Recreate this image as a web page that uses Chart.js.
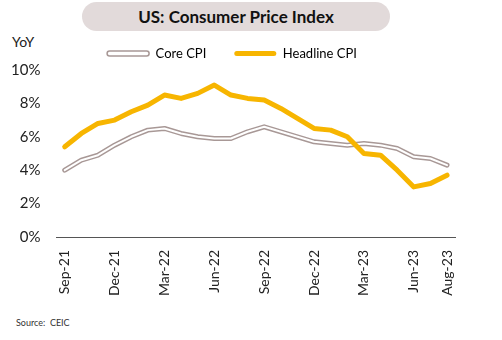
<!DOCTYPE html>
<html>
<head>
<meta charset="utf-8">
<script src="https://cdn.jsdelivr.net/npm/chart.js@4/dist/chart.umd.min.js"></script>
<style>
  body { margin: 0; background: #fff; font-family: Lato, "DejaVu Sans", sans-serif; }
  #wrap { position: relative; width: 502px; height: 340px; overflow: hidden; }
  #title {
    position: absolute; left: 82px; top: 2px; width: 308px; height: 29px;
    border-radius: 15px; background: #e2dada; color: #111;
    font-weight: bold; font-size: 17px; line-height: 29px; text-align: center;
  }
  #yoy { position: absolute; left: 12px; top: 33px; font-size: 14px; color: #222; }
  #source { position: absolute; left: 16px; top: 317px; font-size: 9px; color: #333; }
  #box { position: absolute; left: -5px; top: 19px; width: 482px; height: 290px; }
</style>
</head>
<body>
<div id="wrap">
  <div id="title">US: Consumer Price Index</div>
  <div id="yoy">YoY</div>
  <div id="box"><canvas id="cpiChart"></canvas></div>
  <div id="source">Source:&nbsp; CEIC</div>
</div>
<script>
const months = [
  "Sep-21", "Oct-21", "Nov-21", "Dec-21", "Jan-22", "Feb-22", "Mar-22", "Apr-22",
  "May-22", "Jun-22", "Jul-22", "Aug-22", "Sep-22", "Oct-22", "Nov-22", "Dec-22",
  "Jan-23", "Feb-23", "Mar-23", "Apr-23", "May-23", "Jun-23", "Jul-23", "Aug-23"
];
const coreCpi = [
  4.0, 4.6, 4.9, 5.5, 6.0, 6.4, 6.5, 6.2, 6.0, 5.9, 5.9, 6.3,
  6.6, 6.3, 6.0, 5.7, 5.6, 5.5, 5.6, 5.5, 5.3, 4.8, 4.7, 4.3
];
const headlineCpi = [
  5.4, 6.2, 6.8, 7.0, 7.5, 7.9, 8.5, 8.3, 8.6, 9.1, 8.5, 8.3,
  8.2, 7.7, 7.1, 6.5, 6.4, 6.0, 5.0, 4.9, 4.0, 3.0, 3.2, 3.7
];
const yTicks = [0, 2, 4, 6, 8, 10];

const coreColor = "#a89896";
const headColor = "#f7b500";
const textColor = "#222";

const ctx = document.getElementById("cpiChart");

new Chart(ctx, {
  type: "line",
  data: {
    labels: months,
    datasets: [
      {
        label: "Core CPI",
        data: coreCpi,
        borderColor: coreColor,
        borderWidth: 5,
        order: 2,
      },
      {
        label: "core-inner",
        data: coreCpi,
        borderColor: "#ffffff",
        borderWidth: 2,
        order: 1,
      },
      {
        label: "Headline CPI",
        data: headlineCpi,
        borderColor: headColor,
        borderWidth: 5,
        order: 0,
      },
    ],
  },
  options: {
    responsive: true,
    maintainAspectRatio: false,
    animation: false,
    layout: { padding: { left: 0, right: 8, top: 0, bottom: 0 } },
    elements: {
      point: { radius: 0 },
      line: { tension: 0, borderJoinStyle: "round", borderCapStyle: "round" },
    },
    plugins: {
      tooltip: { enabled: false },
      legend: {
        position: "top",
        labels: {
          color: textColor,
          font: { family: "Lato", size: 13 },
          boxWidth: 42,
          boxHeight: 5,
          padding: 28,
          generateLabels: () => [
            {
              text: "Core CPI",
              fillStyle: "#ffffff",
              strokeStyle: coreColor,
              lineWidth: 1.5,
              borderRadius: 2.5,
              datasetIndex: 0,
            },
            {
              text: "Headline CPI",
              fillStyle: headColor,
              strokeStyle: headColor,
              lineWidth: 0,
              borderRadius: 2.5,
              datasetIndex: 2,
            },
          ],
        },
      },
    },
    scales: {
      x: {
        offset: true,
        grid: { display: false, drawTicks: false },
        border: { color: "#555", width: 1 },
        ticks: {
          color: textColor,
          font: { family: "Lato", size: 14 },
          autoSkip: false,
          minRotation: 90,
          maxRotation: 90,
          padding: 13,
          callback: (val, i) =>
            i % 3 === 0 || i === months.length - 1 ? months[i] : "",
        },
      },
      y: {
        min: yTicks[0],
        max: yTicks[yTicks.length - 1],
        grid: { display: false, drawTicks: false },
        border: { display: false },
        afterBuildTicks: (axis) => {
          axis.ticks = yTicks.map((v) => ({ value: v }));
        },
        ticks: {
          color: textColor,
          font: { family: "Lato", size: 15 },
          padding: 16,
          callback: (v) => v + "%",
        },
      },
    },
  },
});
</script>
</body>
</html>
